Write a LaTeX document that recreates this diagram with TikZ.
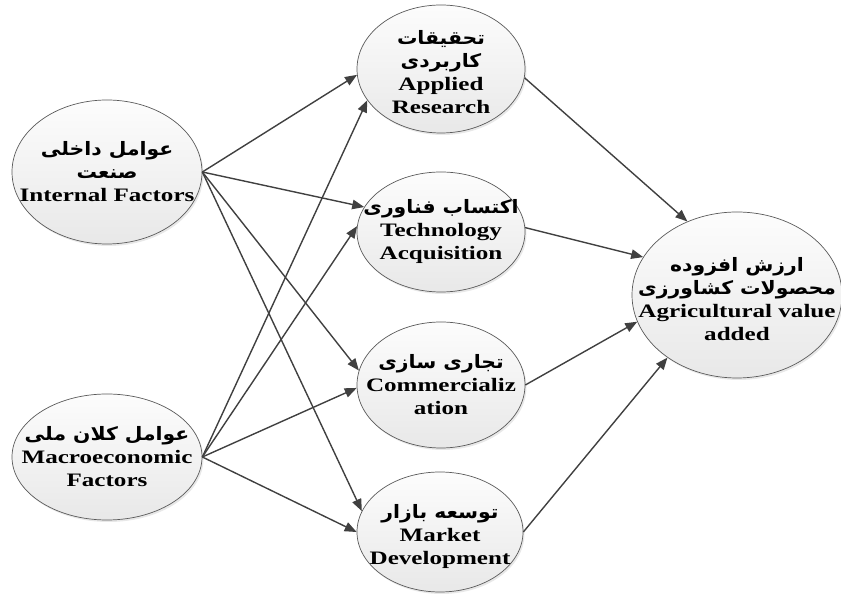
\documentclass[tikz,border=0pt]{standalone}
\usepackage{fontspec}
\setmainfont[FakeStretch=1.32]{Liberation Serif}
\newfontfamily\farsi[Script=Arabic,FakeStretch=1.1]{DejaVu Sans}
\TeXXeTstate=1
\newcommand\fatext[1]{{\farsi\fontsize{18.5}{24}\selectfont\beginR #1\endR}}
\usetikzlibrary{shapes.geometric}
\usetikzlibrary{shadows}
\usetikzlibrary{arrows.meta}
\definecolor{rim}{HTML}{5A5A5A}
\definecolor{wire}{HTML}{404040}
\tikzset{el/.style={ellipse, draw=rim, line width=.7pt, inner sep=0pt,
  top color=white!99!black, bottom color=white!91!black,
  drop shadow={opacity=.18, shadow xshift=1.5pt, shadow yshift=-2pt}}}
\tikzset{txt/.style={align=center, inner sep=0pt, font=\fontsize{19}{23}\selectfont\bfseries}}
\tikzset{ar/.style={draw=wire, line width=1.4pt, -{Triangle[length=12pt,width=9.5pt]}}}

\begin{document}
\begin{tikzpicture}[x=1pt, y=1pt]
  \useasboundingbox (0,0) rectangle (841,599);
  % left column
  \node[el, minimum width=190pt, minimum height=144pt] (inner) at (107,427) {};
  \node[txt] (inner-t) at (inner) {\fatext{عوامل داخلی}\\\fatext{صنعت}\\Internal Factors};
  \node[el, minimum width=190pt, minimum height=126pt] (macro) at (107,142) {};
  \node[txt] (macro-t) at (macro) {\fatext{عوامل کلان ملی}\\Macroeconomic\\Factors};
  % middle column
  \node[el, minimum width=168pt, minimum height=128pt] (applied) at (441,530) {};
  \node[txt] (applied-t) at ([yshift=-3pt]applied) {\fatext{تحقیقات}\\\fatext{کاربردی}\\Applied\\Research};
  \node[el, minimum width=168pt, minimum height=120pt] (techacq) at (441,367) {};
  \node[txt] (techacq-t) at (techacq) {\fatext{اکتساب فناوری}\\Technology\\Acquisition};
  \node[el, minimum width=168pt, minimum height=126pt] (commer) at (441,214) {};
  \node[txt] (commer-t) at (commer) {\fatext{تجاری سازی}\\Commercializ\\ation};
  \node[el, minimum width=166pt, minimum height=120pt] (market) at (440,67) {};
  \node[txt] (market-t) at ([yshift=-4pt]market) {\fatext{توسعه بازار}\\Market\\Development};
  % right
  \node[el, minimum width=210pt, minimum height=166pt] (agri) at (737,304) {};
  \node[txt] (agri-t) at ([yshift=-4pt]agri) {\fatext{ارزش افزوده}\\\fatext{محصولات کشاورزی}\\Agricultural value\\added};

  \draw[ar] (inner.east) -- (applied.184);
  \draw[ar] (inner.east) -- (techacq.162);
  \draw[ar] (inner.east) -- (commer.170);
  \draw[ar] (inner.east) -- (market.165);
  \draw[ar] (macro.east) -- (applied.203);
  \draw[ar] (macro.east) -- (techacq.176);
  \draw[ar] (macro.east) -- (commer.182);
  \draw[ar] (macro.east) -- (market.180);
  \draw[ar] (applied.354) -- (agri.124);
  \draw[ar] (techacq.3) -- (agri.158);
  \draw[ar] (commer.0) -- (agri.195);
  \draw[ar] (market.0) -- (agri.222);
\end{tikzpicture}
\end{document}
